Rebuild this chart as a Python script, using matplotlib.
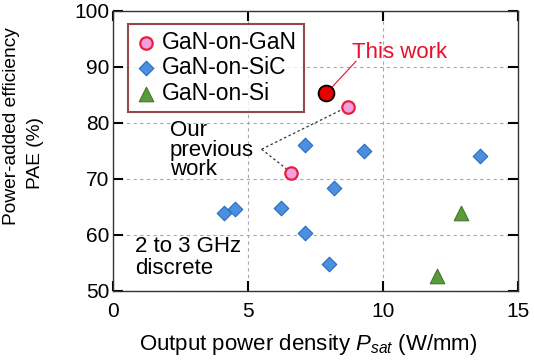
import matplotlib
matplotlib.use("Agg")
import matplotlib.pyplot as plt

plt.rcParams['font.family'] = ['Liberation Sans', 'DejaVu Sans']
plt.rcParams['mathtext.fontset'] = 'custom'
plt.rcParams['mathtext.it'] = 'Liberation Sans:italic'
plt.rcParams['mathtext.rm'] = 'Liberation Sans'

# data
this_x, this_y = [7.9], [85.3]
gan_x = [8.7, 6.6]
gan_y = [82.9, 71.1]
sic_x = [7.1, 9.3, 13.6, 8.2, 4.1, 4.5, 6.2, 7.1, 8.0]
sic_y = [76.0, 75.0, 74.1, 68.3, 63.9, 64.6, 64.8, 60.4, 54.9]
si_x = [12.9, 12.0]
si_y = [63.9, 52.6]
xticks = [0, 5, 10, 15]
yticks = [50, 60, 70, 80, 90, 100]

fig = plt.figure(figsize=(5.34, 3.61), dpi=100)
ax = fig.add_axes([0.212, 0.194, 0.758, 0.776])

ax.scatter(sic_x, sic_y, marker="D", s=55, c="#4a8fe0", edgecolors="#2a6bbf", linewidths=0.8, label="GaN-on-SiC", zorder=3)
ax.scatter(si_x, si_y, marker="^", s=110, c="#5a9a3a", edgecolors="#3f7a28", linewidths=0.8, label="GaN-on-Si", zorder=3)
ax.scatter(gan_x, gan_y, marker="o", s=80, c="#f59ee0", edgecolors="#e8203a", linewidths=1.6, label="GaN-on-GaN", zorder=4)
ax.scatter(this_x, this_y, marker="o", s=130, c="#e60000", edgecolors="black", linewidths=1.3, zorder=5)

ax.set_xlim(0, 15)
ax.set_ylim(50, 100)
ax.set_xticks(xticks)
ax.set_yticks(yticks)
ax.grid(True, linestyle=(0, (3, 3)), color="#a8a8a8", linewidth=0.8)
ax.tick_params(direction="in", length=7, width=1.5, labelsize=15, top=True, right=True)
ax.tick_params(axis="x", pad=8)
ax.tick_params(axis="y", pad=3)
for s in ax.spines.values():
    s.set_linewidth(1.0)
    s.set_color("#333333")

ax.set_xlabel("Output power density $P_{sat}$ (W/mm)", fontsize=16)
ax.xaxis.set_label_coords(0.482, -0.145)
# y label: two separately placed lines, as in the reference
fig.text(12 / 534, 1 - 126 / 361, "Power-added efficiency", rotation=90, fontsize=13.8,
         ha="center", va="center")
fig.text(35 / 534, 1 - 153 / 361, "PAE (%)", rotation=90, fontsize=13.8,
         ha="center", va="center")

h, l = ax.get_legend_handles_labels()
order = [2, 0, 1]
leg = ax.legend([h[i] for i in order], [l[i] for i in order], loc="upper left",
                bbox_to_anchor=(0.036, 0.954), fontsize=16.5, frameon=True, fancybox=False,
                handletextpad=0.2, borderpad=0.3, labelspacing=0.12, handlelength=1.0,
                borderaxespad=0)
leg.get_frame().set_edgecolor("#7a1a1a")
leg.get_frame().set_linewidth(1.5)

# annotations
ax.plot([7.9, 9.0], [85.3, 91.0], color="#e8102a", lw=0.8, zorder=2)
ax.text(8.85, 92.5, "This work", color="#e8102a", fontsize=16, ha="left", va="center")
ax.text(2.1, 75.1, "Our\nprevious\nwork", fontsize=16, ha="left", va="center", linespacing=0.9)
for px, py in zip(gan_x, gan_y):
    ax.plot([5.5, px], [75.3, py], linestyle=(0, (2, 2)), color="#333333", lw=0.9, zorder=2)
ax.text(0.8, 56.0, "2 to 3 GHz\ndiscrete", fontsize=16, ha="left", va="center", linespacing=1.05)

fig.savefig("out.png", dpi=100)
